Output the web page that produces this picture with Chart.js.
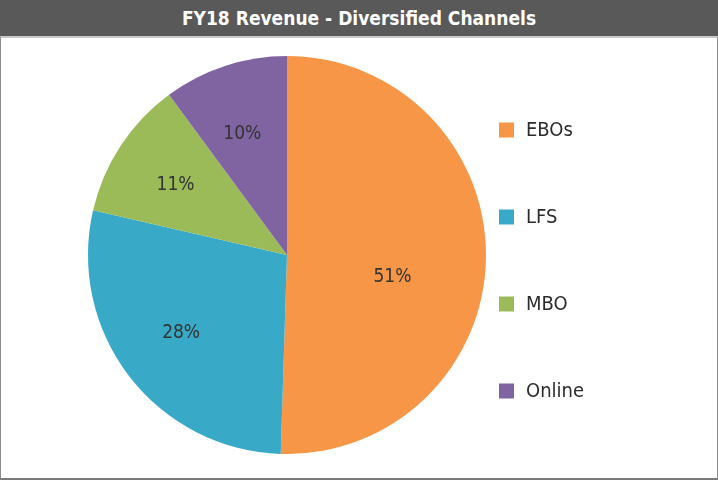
<!DOCTYPE html>
<html lang="en">
<head>
  <meta charset="UTF-8">
  <title>FY18 Revenue - Diversified Channels</title>
  <script src="https://cdn.jsdelivr.net/npm/chart.js"></script>
  <style>
    html, body { margin: 0; padding: 0; background: #fff; }
    body { width: 718px; height: 480px; overflow: hidden; font-family: "DejaVu Sans Condensed", "DejaVu Sans", sans-serif; }
    .title {
      height: 36px; line-height: 36px; background: #595959; color: #fff;
      text-align: center; font-weight: bold; font-size: 19px;
    }
    .box {
      position: absolute; top: 36px; left: 0; width: 718px; height: 444px;
      border: 1px solid #8c8c8c; border-top: 2px solid #c8c8c8; border-bottom: 2px solid #7a7a7a;
      box-sizing: border-box;
    }
    .wrap { position: relative; width: 716px; height: 440px; }
  </style>
</head>
<body>
  <div class="title">FY18 Revenue - Diversified Channels</div>
  <div class="box"><div class="wrap"><canvas id="chart"></canvas></div></div>

  <script>
    const channels = ['EBOs', 'LFS', 'MBO', 'Online'];
    const shares = [50.5, 28.1, 11.3, 10.1];
    const sliceColors = ['#F79646', '#38A9C6', '#9BBB59', '#8064A2'];

    const FONT = '"DejaVu Sans Condensed", "DejaVu Sans", sans-serif';

    // writes the rounded % figure inside each slice
    const sliceLabels = {
      id: 'sliceLabels',
      afterDatasetsDraw(chart) {
        const ctx = chart.ctx;
        const meta = chart.getDatasetMeta(0);
        ctx.save();
        ctx.font = '19px ' + FONT;
        ctx.fillStyle = '#333333';
        ctx.textAlign = 'center';
        ctx.textBaseline = 'middle';
        meta.data.forEach((arc, i) => {
          const mid = (arc.startAngle + arc.endAngle) / 2;
          const big = shares[i] > 40;
          // big slice keeps its label nearer the middle, small ones further out
          const r = arc.outerRadius * (big ? 0.53 : 0.64);
          ctx.fillText(Math.round(shares[i]) + '%', arc.x + Math.cos(mid) * r - (big ? 0 : 5), arc.y + Math.sin(mid) * r + (big ? 20 : 0));
        });
        ctx.restore();
      }
    };

    // simple one-column legend on the right, spaced like the original
    const sideLegend = {
      id: 'sideLegend',
      afterDraw(chart) {
        const ctx = chart.ctx;
        const ds = chart.data.datasets[0];
        const x = chart.chartArea.right + 4;
        const gap = 87;
        const y0 = (chart.chartArea.top + chart.chartArea.bottom) / 2 + 5 - gap * 1.5;
        ctx.save();
        ctx.font = '20px ' + FONT;
        ctx.textBaseline = 'middle';
        chart.data.labels.forEach((lab, i) => {
          const y = y0 + i * gap;
          ctx.fillStyle = ds.backgroundColor[i];
          ctx.fillRect(x, y - 7, 15, 15);
          ctx.fillStyle = '#2b2b2b';
          ctx.fillText(lab, x + 27, y + 1);
        });
        ctx.restore();
      }
    };

    new Chart(document.getElementById('chart'), {
      type: 'pie',
      data: {
        labels: channels,
        datasets: [{ data: shares, backgroundColor: sliceColors, borderWidth: 0 }]
      },
      options: {
        responsive: true,
        maintainAspectRatio: false,
        animation: false,
        layout: { padding: { left: 78, right: 222, top: 18, bottom: 24 } },
        plugins: {
          tooltip: { enabled: false },
          legend: { display: false }
        }
      },
      plugins: [sliceLabels, sideLegend]
    });
  </script>
</body>
</html>
